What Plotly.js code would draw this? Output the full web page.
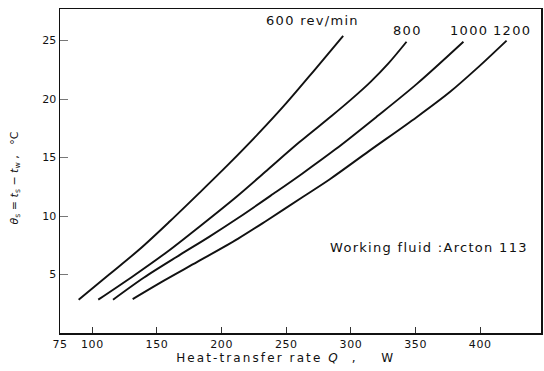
<!DOCTYPE html>
<html>
<head>
<meta charset="utf-8">
<script src="https://cdn.plot.ly/plotly-3.0.1.min.js"></script>
<style>
html,body{margin:0;padding:0;background:#fff;}
#chart{width:544px;height:371px;}
.xtitle{letter-spacing:2.1px;}
.annotation-text{letter-spacing:1.3px;}
.xtick text{letter-spacing:0.6px;}
</style>
</head>
<body>
<div id="chart"></div>
<script>
// Heat-transfer rate Q (W) vs temperature difference (°C) for each speed
const q600  = [89.4, 113, 137, 160, 183, 206, 228, 250, 272, 294];
const t600  = [2.85, 5.0, 7.2, 9.55, 12.0, 14.5, 17.0, 19.65, 22.5, 25.4];

const q800  = [104.6, 132, 158, 184, 212, 235, 260, 285, 300, 315, 329, 343];
const t800  = [2.85, 4.9, 6.95, 9.2, 11.7, 13.9, 16.3, 18.55, 19.95, 21.45, 23.05, 24.9];

const q1000 = [116, 140, 168, 190, 213, 240, 262, 288, 320, 351, 387];
const t1000 = [2.85, 4.75, 6.7, 8.2, 9.85, 11.9, 13.6, 15.7, 18.5, 21.3, 24.9];

const q1200 = [131.2, 155.7, 181.5, 212.5, 234.7, 263, 283.7, 313.9, 350.8, 376.5, 397.2, 420.4];
const t1200 = [2.9, 4.5, 6.1, 8.05, 9.6, 11.65, 13.15, 15.55, 18.45, 20.6, 22.6, 25.0];

const speedLabels = ["600 rev/min", "800", "1000", "1200"];
const xTicks = [75, 100, 150, 200, 250, 300, 350, 400];
const yTicks = [5, 10, 15, 20, 25];

const series = [[q600, t600], [q800, t800], [q1000, t1000], [q1200, t1200]];
const traces = series.map((s, i) => ({
  x: s[0], y: s[1], type: 'scatter', mode: 'lines',
  name: speedLabels[i],
  line: {color: '#111', width: 1.9, shape: 'spline', smoothing: 0.9},
  hoverinfo: 'skip'
}));

const fontFam = '"DejaVu Sans", Arial, sans-serif';
const NB = '\u00A0';
const PAD = '<span style="color:rgba(0,0,0,0)">.</span>';
const labelPos = [[270, 26.68], [343.7, 25.85], [391.6, 25.85], [424.9, 25.85]];
const annotations = speedLabels.map((t, i) => ({
  x: labelPos[i][0], y: labelPos[i][1], xref: 'x', yref: 'y',
  text: t, showarrow: false, font: {family: fontFam, size: 13, color: '#111'}
}));
annotations.push({
  x: 438.2, y: 7.27, xref: 'x', yref: 'y', xanchor: 'right',
  text: 'Working fluid :Arcton 113', showarrow: false,
  font: {family: fontFam, size: 13, color: '#111'}
});

const layout = {
  width: 544, height: 371,
  margin: {l: 60, r: 3, t: 9, b: 38},
  paper_bgcolor: '#fff', plot_bgcolor: '#fff',
  showlegend: false,
  font: {family: fontFam, color: '#111'},
  xaxis: {
    range: [75, 447], tickvals: xTicks, ticktext: xTicks.map(String),
    ticks: 'inside', ticklen: 6, tickwidth: 1, tickcolor: '#333',
    showline: true, linecolor: '#111', linewidth: 1.5, mirror: true,
    showgrid: false, zeroline: false,
    tickfont: {family: fontFam, size: 11, color: '#111'},
    title: {text: 'Heat-transfer rate <i>Q</i>' + NB + NB + ',' + NB + NB + NB + NB + 'W' + NB.repeat(4) + PAD,
            font: {family: fontFam, size: 12, color: '#111'}, standoff: 4}
  },
  yaxis: {
    range: [0, 27.7], tickvals: yTicks, ticktext: yTicks.map(String),
    ticks: 'inside', ticklen: 8, tickwidth: 1, tickcolor: '#777',
    showline: true, linecolor: '#111', linewidth: 1.5, mirror: true,
    showgrid: false, zeroline: false,
    tickfont: {family: fontFam, size: 11, color: '#111'},
    title: {text: '<i>θ</i><sub>s</sub> = <i>t</i><sub>s</sub> − <i>t</i><sub>w</sub>' + NB + ',' + NB + NB + NB + '°C' + NB.repeat(3) + PAD,
            font: {family: fontFam, size: 11, color: '#111'}, standoff: 21}
  },
  annotations: annotations
};

Plotly.newPlot('chart', traces, layout, {displayModeBar: false, staticPlot: true});
</script>
</body>
</html>
